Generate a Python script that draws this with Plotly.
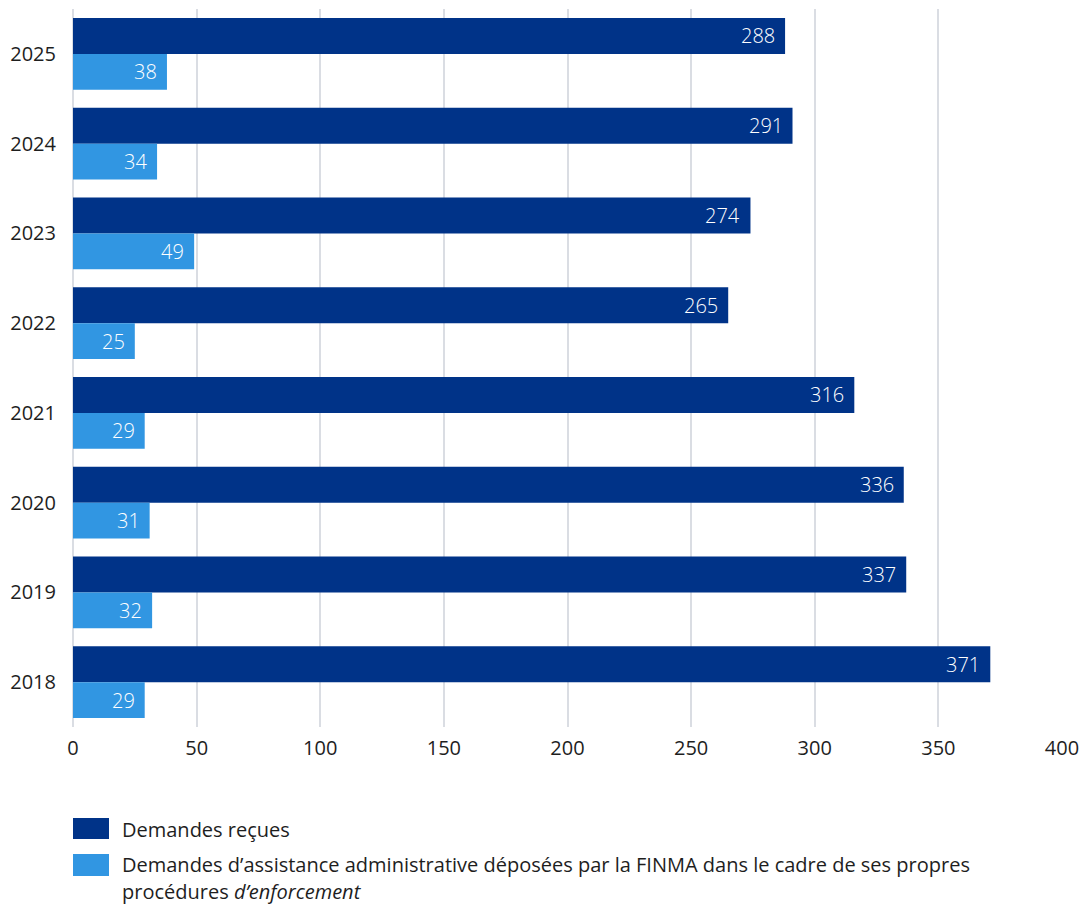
import plotly.graph_objects as go

# Data
years = ["2025", "2024", "2023", "2022", "2021", "2020", "2019", "2018"]
demandes_recues = [288, 291, 274, 265, 316, 336, 337, 371]
demandes_finma = [38, 34, 49, 25, 29, 31, 32, 29]

series_names = [
    "Demandes reçues",
    "Demandes d’assistance administrative déposées par la FINMA dans le cadre de ses propres",
    "procédures <i>d’enforcement</i>",
]
x_ticks = [0, 50, 100, 150, 200, 250, 300, 350, 400]

DARK = "#003388"
LIGHT = "#3196E2"
GRID = "#DADDE3"
TEXT = "#1E1E1E"
FONT = "Open Sans"
FS = 20

W, H = 1092, 905
ML, MR, MT, MB = 73, 30, 9, 178

fig = go.Figure()
fig.add_trace(go.Bar(
    y=years, x=demandes_recues, orientation="h", name=series_names[0],
    marker=dict(color=DARK, line=dict(width=0)), showlegend=False,
))
fig.add_trace(go.Bar(
    y=years, x=demandes_finma, orientation="h", name="FINMA",
    marker=dict(color=LIGHT, line=dict(width=0)), showlegend=False,
))

annotations = []
# value labels inside the bar ends (category axis: y is the category's serial number)
label_font = dict(family=FONT, size=FS, color="white", weight=300)
for i, v in enumerate(demandes_recues):
    annotations.append(dict(x=v, y=i, xref="x", yref="y", text=str(v),
                            showarrow=False, xanchor="right", yanchor="middle",
                            xshift=-8, yshift=18, font=label_font))
for i, v in enumerate(demandes_finma):
    annotations.append(dict(x=v, y=i, xref="x", yref="y", text=str(v),
                            showarrow=False, xanchor="right", yanchor="middle",
                            xshift=-8, yshift=-18, font=label_font))

pw = W - ML - MR
ph = H - MT - MB


def px_to_paper(px, py):
    return (px - ML) / pw, (H - MB - py) / ph


# legend built from swatches and text
shapes = []
for (top, bot), col in zip([(818, 839), (854, 876)], [DARK, LIGHT]):
    x0, y0 = px_to_paper(73, bot)
    x1, y1 = px_to_paper(109, top)
    shapes.append(dict(type="rect", xref="paper", yref="paper",
                       x0=x0, x1=x1, y0=y0, y1=y1,
                       fillcolor=col, line=dict(width=0)))

for txt, cy in zip(series_names, [829, 864, 891]):
    lx, ly = px_to_paper(120, cy)
    annotations.append(dict(x=lx, y=ly, xref="paper", yref="paper", text=txt,
                            showarrow=False, xanchor="left", yanchor="middle",
                            font=dict(family=FONT, size=FS, color=TEXT)))

fig.update_layout(
    width=W, height=H,
    margin=dict(l=ML, r=MR, t=MT, b=MB),
    paper_bgcolor="white", plot_bgcolor="white",
    barmode="group", bargap=0.2, bargroupgap=0,
    font=dict(family=FONT, size=FS, color=TEXT),
    annotations=annotations, shapes=shapes,
    xaxis=dict(range=[0, 400], tickvals=x_ticks, showgrid=True,
               gridcolor=GRID, gridwidth=2, zeroline=True, zerolinecolor=GRID,
               zerolinewidth=2, showline=False, ticks="outside", ticklen=3,
               tickcolor="rgba(0,0,0,0)", tickfont=dict(size=FS, color=TEXT)),
    yaxis=dict(type="category", range=[len(years) - 0.5, -0.5], showgrid=False,
               showline=False, ticks="outside", ticklen=12,
               tickcolor="rgba(0,0,0,0)", tickfont=dict(size=FS, color=TEXT)),
)

fig.write_html("out.html")
